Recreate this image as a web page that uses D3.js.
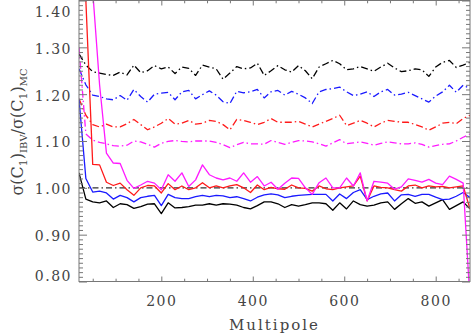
<!DOCTYPE html>
<html>
<head>
<meta charset="utf-8">
<script src="https://cdn.jsdelivr.net/npm/d3@7"></script>
<style>
  html, body { margin: 0; padding: 0; background: #fff; }
  svg { display: block; }
</style>
</head>
<body>
<div id="chart"></div>
<script>
// ---- data ----
const ell = [20,35,50,65,80,95,110,125,140,155,170,185,200,215,230,245,260,275,290,305,320,335,350,365,380,395,410,425,440,455,470,485,500,515,530,545,560,575,590,605,620,635,650,665,680,695,710,725,740,755,770,785,800,815,830,845,860,875];

const blackSolid = [1.032,0.976,0.970,0.968,0.972,0.958,0.966,0.964,0.956,0.960,0.965,0.966,0.945,0.968,0.957,0.958,0.960,0.963,0.963,0.966,0.963,0.966,0.965,0.963,0.958,0.955,0.962,0.970,0.970,0.966,0.958,0.964,0.961,0.964,0.968,0.968,0.966,0.952,0.968,0.955,0.972,0.964,0.961,0.963,0.968,0.970,0.954,0.966,0.977,0.967,0.970,0.961,0.968,0.975,0.954,0.962,0.970,0.955];
const blueSolid = [1.19,1.02,0.991,0.993,0.989,0.976,0.984,0.979,0.970,0.979,0.982,0.984,0.962,0.986,0.979,0.977,0.977,0.981,0.984,0.981,0.984,0.983,0.979,0.981,0.977,0.972,0.980,0.985,0.987,0.985,0.979,0.982,0.984,0.985,0.986,0.986,0.986,0.972,0.987,0.977,0.990,0.996,0.975,0.982,0.987,0.989,0.972,0.985,0.986,0.982,0.986,0.986,0.980,0.975,0.976,0.982,0.990,0.979];
const redSolid = [1.9,1.40,1.05,1.049,1.012,1.005,1.010,0.996,0.984,1.000,1.005,1.004,0.989,1.009,0.996,1.004,0.996,1.000,1.011,1.000,1.004,1.000,1.004,1.007,1.000,0.990,1.006,0.996,1.001,0.998,0.997,1.006,1.000,0.999,0.993,1.004,0.998,0.996,1.000,1.002,1.004,1.025,0.972,1.004,1.001,1.000,0.996,0.993,1.004,1.006,1.000,1.004,1.002,1.003,1.000,1.002,1.004,0.955];
const magentaSolid = [2.2,1.75,1.42,1.22,1.074,1.053,1.052,1.016,0.999,1.006,1.014,1.010,0.996,1.028,1.014,1.032,1.003,1.017,1.049,1.028,1.021,1.017,1.021,1.014,1.032,1.012,1.024,1.004,1.012,0.997,1.010,1.021,1.020,1.000,0.986,1.011,1.021,1.000,1.000,1.021,1.004,1.032,0.972,1.014,1.012,1.010,0.997,1.002,1.019,1.016,1.012,1.018,1.010,1.007,1.025,1.018,1.010,0.76];

const blackDash = [1.286,1.262,1.248,1.245,1.242,1.240,1.247,1.241,1.262,1.246,1.250,1.261,1.254,1.258,1.244,1.258,1.255,1.240,1.262,1.258,1.254,1.232,1.245,1.259,1.254,1.256,1.266,1.240,1.250,1.261,1.252,1.247,1.261,1.250,1.233,1.258,1.265,1.272,1.265,1.252,1.254,1.259,1.254,1.249,1.258,1.266,1.256,1.248,1.250,1.254,1.252,1.238,1.258,1.268,1.272,1.257,1.262,1.268];
const blueDash = [1.254,1.220,1.198,1.195,1.190,1.188,1.197,1.187,1.210,1.195,1.183,1.200,1.202,1.204,1.188,1.205,1.208,1.190,1.199,1.207,1.198,1.184,1.180,1.206,1.203,1.205,1.210,1.192,1.205,1.208,1.198,1.206,1.200,1.192,1.180,1.205,1.210,1.212,1.215,1.205,1.197,1.200,1.205,1.195,1.205,1.210,1.198,1.200,1.204,1.197,1.190,1.183,1.196,1.205,1.219,1.204,1.219,1.212];
const redDash = [1.190,1.155,1.135,1.130,1.136,1.130,1.130,1.137,1.146,1.135,1.124,1.130,1.138,1.148,1.136,1.138,1.144,1.136,1.138,1.144,1.142,1.135,1.124,1.146,1.144,1.140,1.135,1.140,1.148,1.140,1.140,1.140,1.142,1.136,1.130,1.136,1.142,1.148,1.155,1.133,1.138,1.144,1.138,1.130,1.138,1.144,1.142,1.140,1.140,1.135,1.130,1.123,1.130,1.138,1.140,1.137,1.148,1.155];
const magentaDash = [1.300,1.115,1.102,1.097,1.094,1.090,1.089,1.091,1.100,1.098,1.093,1.087,1.095,1.099,1.101,1.099,1.098,1.100,1.100,1.100,1.097,1.092,1.086,1.092,1.097,1.094,1.094,1.093,1.101,1.097,1.093,1.097,1.101,1.100,1.098,1.094,1.089,1.096,1.103,1.094,1.096,1.098,1.095,1.091,1.095,1.098,1.096,1.094,1.094,1.096,1.093,1.087,1.090,1.093,1.094,1.100,1.108,1.115];

const referenceLevel = [1.0];

const xTicks = [200, 400, 600, 800];
const xMinorTicks = [50,100,150,250,300,350,450,500,550,650,700,750,850];
const yTicks = [0.80, 0.90, 1.00, 1.10, 1.20, 1.30, 1.40];
const yMinorTicks = d3.range(80, 141).map(v => v / 100).filter(v => Math.round(v * 100) % 10 !== 0);
const xDomain = [20, 875];
const yDomain = [0.80, 1.40];

const series = [
  { values: blackDash,   color: "#000000", dash: "7,3,1.5,3" },
  { values: blueDash,    color: "#1a1aff", dash: "7,3,1.5,3" },
  { values: redDash,     color: "#ff1a1a", dash: "7,3,1.5,3" },
  { values: magentaDash, color: "#ff1aff", dash: "7,3,1.5,3" },
  { values: blackSolid,  color: "#000000", dash: null },
  { values: blueSolid,   color: "#1a1aff", dash: null },
  { values: redSolid,    color: "#ff1a1a", dash: null },
  { values: magentaSolid,color: "#ff1aff", dash: null }
];

// ---- layout ----
const W = 474, H = 335;
const m = { left: 79, right: 4, top: 0.5, bottom: 53.5 };
const iw = W - m.left - m.right, ih = H - m.top - m.bottom;
const axisColor = "#777";
const textColor = "#444";
const fontFam = "'DejaVu Serif', 'Liberation Serif', serif";

const svg = d3.select("#chart").append("svg").attr("width", W).attr("height", H);
const g = svg.append("g").attr("transform", `translate(${m.left},${m.top})`);

const x = d3.scaleLinear().domain(xDomain).range([0, iw]);
const y = d3.scaleLinear().domain(yDomain).range([ih, 0]);

g.append("clipPath").attr("id", "clip").append("rect")
  .attr("x", 0).attr("y", 0).attr("width", iw).attr("height", ih);

const plot = g.append("g").attr("clip-path", "url(#clip)");

// reference line at 1.00
plot.selectAll(".ref").data(referenceLevel).enter().append("line")
  .attr("x1", 0).attr("x2", iw)
  .attr("y1", d => y(d)).attr("y2", d => y(d))
  .attr("stroke", "#333").attr("stroke-width", 1.1)
  .attr("stroke-dasharray", "6,3,1.5,3");

const line = d3.line().x((d, i) => x(ell[i])).y(d => y(d));
series.forEach(s => {
  const p = plot.append("path").datum(s.values)
    .attr("d", line).attr("fill", "none")
    .attr("stroke", s.color).attr("stroke-width", 1.3)
    .attr("stroke-linejoin", "round");
  if (s.dash) p.attr("stroke-dasharray", s.dash);
});

// ---- axes ----
function styleAxis(sel) {
  sel.select(".domain").remove();
  sel.selectAll(".tick line").attr("stroke", axisColor).attr("stroke-width", 1);
  sel.selectAll(".tick text").attr("fill", textColor)
    .attr("font-family", fontFam).attr("font-size", 14)
    .style("letter-spacing", "1.5px");
}

// bottom
g.append("g").attr("transform", `translate(0,${ih})`)
  .call(d3.axisBottom(x).tickValues(xTicks).tickFormat(d3.format("d")).tickSize(-5).tickPadding(15))
  .call(styleAxis);
g.append("g").attr("transform", `translate(0,${ih})`)
  .call(d3.axisBottom(x).tickValues(xMinorTicks).tickFormat("").tickSize(-2.8))
  .call(styleAxis);
// top
g.append("g")
  .call(d3.axisTop(x).tickValues(xTicks).tickFormat("").tickSize(-5))
  .call(styleAxis);
g.append("g")
  .call(d3.axisTop(x).tickValues(xMinorTicks).tickFormat("").tickSize(-2.8))
  .call(styleAxis);
// left
const yl = g.append("g")
  .call(d3.axisLeft(y).tickValues(yTicks).tickFormat(d3.format(".2f")).tickSize(-8).tickPadding(7))
  .call(styleAxis);
yl.selectAll(".tick text").attr("y", d => {
  const pos = y(d);
  let c = pos + 1.5;
  c = Math.max(12, Math.min(ih - 5.5, c));
  return c - pos;
});
g.append("g")
  .call(d3.axisLeft(y).tickValues(yMinorTicks).tickFormat("").tickSize(-4))
  .call(styleAxis);
// right
g.append("g").attr("transform", `translate(${iw},0)`)
  .call(d3.axisRight(y).tickValues(yTicks).tickFormat("").tickSize(-8))
  .call(styleAxis);
g.append("g").attr("transform", `translate(${iw},0)`)
  .call(d3.axisRight(y).tickValues(yMinorTicks).tickFormat("").tickSize(-4))
  .call(styleAxis);

// frame
g.append("rect").attr("x", 0).attr("y", 0).attr("width", iw).attr("height", ih)
  .attr("fill", "none").attr("stroke", axisColor).attr("stroke-width", 1);

// x title
svg.append("text")
  .attr("x", m.left + iw / 2).attr("y", 330)
  .attr("text-anchor", "middle")
  .attr("font-family", fontFam).attr("font-size", 15)
  .style("letter-spacing", "2px")
  .attr("fill", textColor)
  .text("Multipole");

// y title
const yt = svg.append("text")
  .attr("transform", "translate(23,132) rotate(-90)")
  .attr("text-anchor", "middle")
  .attr("font-family", fontFam).attr("font-size", 16)
  .attr("fill", textColor);
yt.append("tspan").text("σ(C");
yt.append("tspan").attr("font-size", 11).attr("dy", 4).text("1");
yt.append("tspan").attr("dy", -4).text(")");
yt.append("tspan").attr("font-size", 10).attr("dy", 4).text("IBV");
yt.append("tspan").attr("dy", -4).text("/σ(C");
yt.append("tspan").attr("font-size", 11).attr("dy", 4).text("1");
yt.append("tspan").attr("dy", -4).text(")");
yt.append("tspan").attr("font-size", 10).attr("dy", 4).text("MC");
</script>
</body>
</html>
